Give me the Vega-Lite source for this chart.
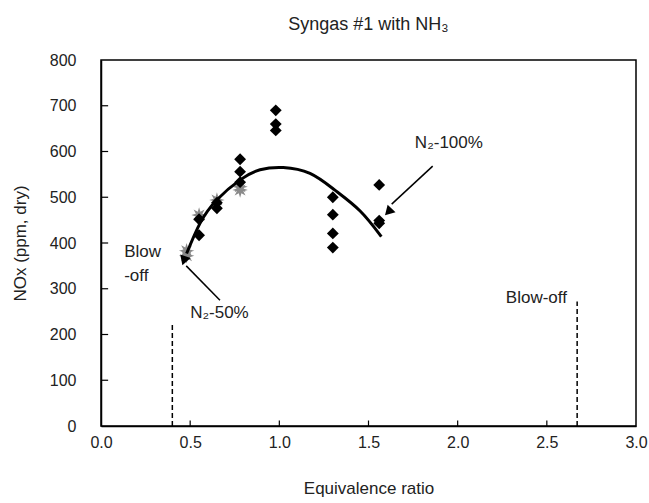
{
  "$schema": "https://vega.github.io/schema/vega-lite/v6.json",
  "width": 535,
  "height": 366,
  "autosize": {"type": "none"},
  "padding": {"left": 101, "top": 60, "right": 13, "bottom": 77},
  "background": "white",
  "title": {"text": "Syngas #1  with NH₃", "fontSize": 18, "font": "Liberation Sans", "fontWeight": "normal", "color": "#222", "offset": 18},
  "config": {
    "view": {"stroke": "black", "strokeWidth": 1.5},
    "axis": {"grid": false, "ticks": false, "domainColor": "black", "domainWidth": 1.5, "labelFont": "Liberation Sans", "labelFontSize": 16, "labelColor": "#222", "titleFont": "Liberation Sans", "titleFontSize": 17, "titleFontWeight": "normal", "titleColor": "#222"}
  },
  "data": {"values": [
    {"kind": "star", "phi": 0.48, "nox": 383},
    {"kind": "star", "phi": 0.48, "nox": 372},
    {"kind": "star", "phi": 0.55, "nox": 461},
    {"kind": "star", "phi": 0.65, "nox": 494},
    {"kind": "star", "phi": 0.78, "nox": 523},
    {"kind": "star", "phi": 0.78, "nox": 516},
    {"kind": "diamond", "phi": 0.55, "nox": 417},
    {"kind": "diamond", "phi": 0.55, "nox": 452},
    {"kind": "diamond", "phi": 0.65, "nox": 476},
    {"kind": "diamond", "phi": 0.65, "nox": 488},
    {"kind": "diamond", "phi": 0.78, "nox": 583},
    {"kind": "diamond", "phi": 0.78, "nox": 556},
    {"kind": "diamond", "phi": 0.78, "nox": 533},
    {"kind": "diamond", "phi": 0.98, "nox": 690},
    {"kind": "diamond", "phi": 0.98, "nox": 660},
    {"kind": "diamond", "phi": 0.98, "nox": 646},
    {"kind": "diamond", "phi": 1.3, "nox": 500},
    {"kind": "diamond", "phi": 1.3, "nox": 462},
    {"kind": "diamond", "phi": 1.3, "nox": 421},
    {"kind": "diamond", "phi": 1.3, "nox": 390},
    {"kind": "diamond", "phi": 1.56, "nox": 527},
    {"kind": "diamond", "phi": 1.56, "nox": 449},
    {"kind": "diamond", "phi": 1.56, "nox": 443},
    {"kind": "curve", "phi": 0.48, "nox": 377},
    {"kind": "curve", "phi": 0.555, "nox": 443},
    {"kind": "curve", "phi": 0.649, "nox": 494},
    {"kind": "curve", "phi": 0.78, "nox": 538},
    {"kind": "curve", "phi": 0.892, "nox": 560},
    {"kind": "curve", "phi": 1.022, "nox": 565},
    {"kind": "curve", "phi": 1.172, "nox": 552},
    {"kind": "curve", "phi": 1.31, "nox": 516},
    {"kind": "curve", "phi": 1.453, "nox": 470},
    {"kind": "curve", "phi": 1.572, "nox": 414},
    {"kind": "dash", "phi": 0.4, "nox": 0, "phi2": 0.4, "nox2": 225},
    {"kind": "dash", "phi": 2.67, "nox": 0, "phi2": 2.67, "nox2": 272},
    {"kind": "tick", "phi": 0.5, "nox": 0, "phi2": 0.5, "nox2": 12},
    {"kind": "tick", "phi": 1.0, "nox": 0, "phi2": 1.0, "nox2": 12},
    {"kind": "tick", "phi": 1.5, "nox": 0, "phi2": 1.5, "nox2": 12},
    {"kind": "tick", "phi": 2.0, "nox": 0, "phi2": 2.0, "nox2": 12},
    {"kind": "tick", "phi": 2.5, "nox": 0, "phi2": 2.5, "nox2": 12},
    {"kind": "tick", "phi": 0, "nox": 100, "phi2": 0.04, "nox2": 100},
    {"kind": "tick", "phi": 0, "nox": 200, "phi2": 0.04, "nox2": 200},
    {"kind": "tick", "phi": 0, "nox": 300, "phi2": 0.04, "nox2": 300},
    {"kind": "tick", "phi": 0, "nox": 400, "phi2": 0.04, "nox2": 400},
    {"kind": "tick", "phi": 0, "nox": 500, "phi2": 0.04, "nox2": 500},
    {"kind": "tick", "phi": 0, "nox": 600, "phi2": 0.04, "nox2": 600},
    {"kind": "tick", "phi": 0, "nox": 700, "phi2": 0.04, "nox2": 700},
    {"kind": "arrow", "phi": 1.86, "nox": 568, "phi2": 1.63, "nox2": 485},
    {"kind": "arrow", "phi": 0.667, "nox": 275, "phi2": 0.478, "nox2": 350},
    {"kind": "head100", "phi": 1.611, "nox": 468},
    {"kind": "head50", "phi": 0.462, "nox": 367},
    {"kind": "note", "phi": 0.13, "nox": 380, "text": "Blow"},
    {"kind": "note", "phi": 0.13, "nox": 328, "text": "-off"},
    {"kind": "note", "phi": 2.27, "nox": 280, "text": "Blow-off"},
    {"kind": "note", "phi": 0.5, "nox": 247, "text": "N₂-50%"},
    {"kind": "note", "phi": 1.76, "nox": 619, "text": "N₂-100%"}
  ]},
  "encoding": {
    "x": {"field": "phi", "type": "quantitative", "scale": {"domain": [0, 3]},
      "axis": {"title": "Equivalence ratio", "values": [0, 0.5, 1, 1.5, 2, 2.5, 3], "format": ".1f", "labelPadding": 8, "titlePadding": 30, "labelFlush": false}},
    "y": {"field": "nox", "type": "quantitative", "scale": {"domain": [0, 800]},
      "axis": {"title": "NOx (ppm, dry)", "values": [0, 100, 200, 300, 400, 500, 600, 700, 800], "labelPadding": 25, "titlePadding": 20, "labelFlush": false}}
  },
  "layer": [
    {
      "transform": [{"filter": "datum.kind === 'dash'"}],
      "mark": {"type": "rule", "strokeDash": [5, 3], "strokeWidth": 1.5, "color": "black"},
      "encoding": {"x2": {"field": "phi2"}, "y2": {"field": "nox2"}}
    },
    {
      "transform": [{"filter": "datum.kind === 'tick'"}],
      "mark": {"type": "rule", "strokeWidth": 1.2, "color": "black"},
      "encoding": {"x2": {"field": "phi2"}, "y2": {"field": "nox2"}}
    },
    {
      "transform": [{"filter": "datum.kind === 'star'"}],
      "mark": {"type": "point", "shape": "M1,0L0.416,0.172L0.707,0.707L0.172,0.416L0,1L-0.172,0.416L-0.707,0.707L-0.416,0.172L-1,0L-0.416,-0.172L-0.707,-0.707L-0.172,-0.416L0,-1L0.172,-0.416L0.707,-0.707L0.416,-0.172Z", "filled": true, "color": "#8a8a8a", "size": 240, "opacity": 1},
      "encoding": {}
    },
    {
      "transform": [{"filter": "datum.kind === 'diamond'"}],
      "mark": {"type": "point", "shape": "diamond", "filled": true, "color": "black", "size": 140, "opacity": 1},
      "encoding": {}
    },
    {
      "transform": [{"filter": "datum.kind === 'curve'"}],
      "mark": {"type": "line", "interpolate": "natural", "color": "black", "strokeWidth": 3},
      "encoding": {}
    },
    {
      "transform": [{"filter": "datum.kind === 'arrow'"}],
      "mark": {"type": "rule", "color": "black", "strokeWidth": 1.5},
      "encoding": {"x2": {"field": "phi2"}, "y2": {"field": "nox2"}}
    },
    {
      "transform": [{"filter": "datum.kind === 'head100'"}],
      "mark": {"type": "point", "shape": "triangle-up", "filled": true, "color": "black", "size": 120, "angle": 224, "opacity": 1},
      "encoding": {}
    },
    {
      "transform": [{"filter": "datum.kind === 'head50'"}],
      "mark": {"type": "point", "shape": "triangle-up", "filled": true, "color": "black", "size": 120, "angle": 319, "opacity": 1},
      "encoding": {}
    },
    {
      "transform": [{"filter": "datum.kind === 'note'"}],
      "mark": {"type": "text", "align": "left", "baseline": "middle", "font": "Liberation Sans", "fontSize": 17, "color": "#222"},
      "encoding": {"text": {"field": "text"}}
    }
  ]
}
